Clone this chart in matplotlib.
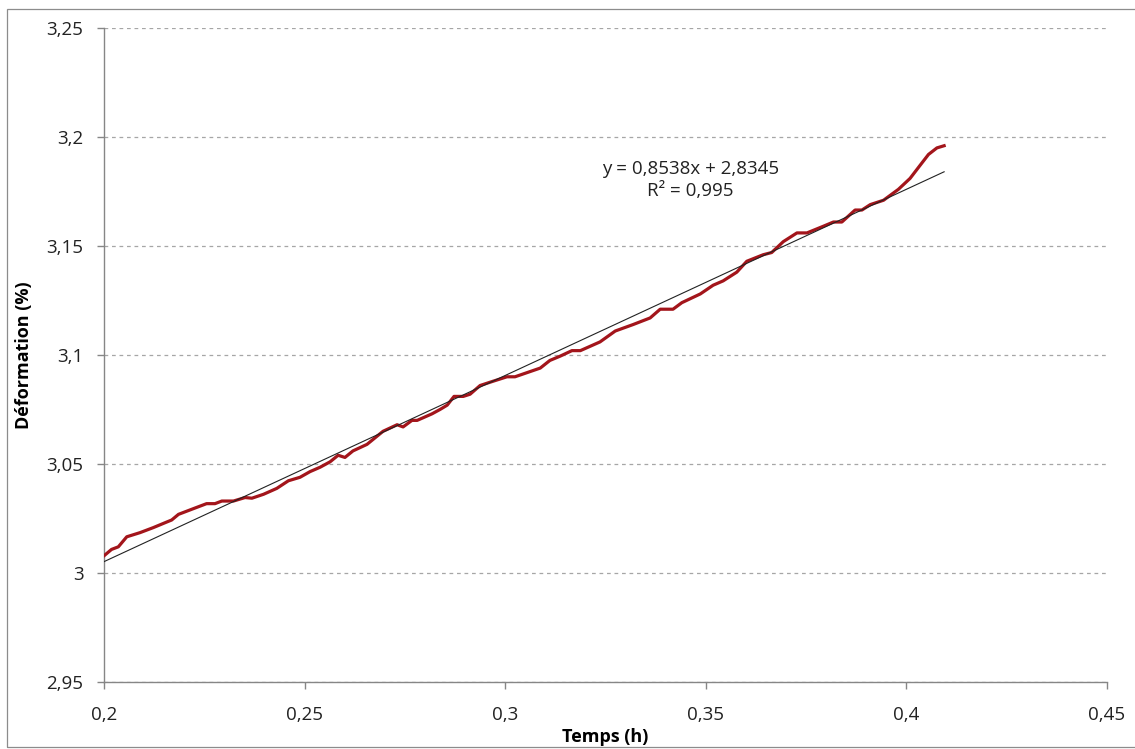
import numpy as np
import matplotlib
matplotlib.use('Agg')
import matplotlib.pyplot as plt
from matplotlib.ticker import FuncFormatter, MultipleLocator
from matplotlib.patches import Rectangle

plt.rcParams['font.family'] = ['Open Sans', 'DejaVu Sans']

# measured strain curve (time in h, strain in %)
temps = [0.2000, 0.2018, 0.2035, 0.2056, 0.2089, 0.2122, 0.2156, 0.2168, 0.2185,
         0.2222, 0.2255, 0.2276, 0.2293, 0.2322, 0.2351, 0.2368, 0.2397, 0.2430,
         0.2459, 0.2488, 0.2513, 0.2538, 0.2563, 0.2583, 0.2600, 0.2620, 0.2655,
         0.2695, 0.2730, 0.2745, 0.2767, 0.2780, 0.2817, 0.2837, 0.2855, 0.2872,
         0.2895, 0.2912, 0.2937, 0.2970, 0.3004, 0.3024, 0.3087, 0.3111, 0.3137,
         0.3166, 0.3187, 0.3236, 0.3274, 0.3319, 0.3361, 0.3386, 0.3418, 0.3440,
         0.3486, 0.3518, 0.3543, 0.3577, 0.3602, 0.3643, 0.3664, 0.3693, 0.3727,
         0.3752, 0.3792, 0.3818, 0.3839, 0.3872, 0.3889, 0.3910, 0.3943, 0.3980,
         0.4009, 0.4034, 0.4055, 0.4076, 0.4094]
deformation = [3.0080, 3.0108, 3.0120, 3.0166, 3.0185, 3.0208, 3.0234, 3.0243, 3.0269,
               3.0295, 3.0318, 3.0318, 3.0330, 3.0330, 3.0346, 3.0343, 3.0361, 3.0388,
               3.0423, 3.0439, 3.0465, 3.0485, 3.0510, 3.0540, 3.0530, 3.0560, 3.0590,
               3.0650, 3.0680, 3.0670, 3.0700, 3.0700, 3.0730, 3.0750, 3.0770, 3.0810,
               3.0810, 3.0820, 3.0860, 3.0880, 3.0900, 3.0900, 3.0940, 3.0975, 3.0995,
               3.1020, 3.1020, 3.1060, 3.1110, 3.1140, 3.1170, 3.1210, 3.1210, 3.1240,
               3.1280, 3.1320, 3.1340, 3.1380, 3.1430, 3.1460, 3.1470, 3.1520, 3.1560,
               3.1560, 3.1590, 3.1610, 3.1610, 3.1665, 3.1665, 3.1690, 3.1710, 3.1760,
               3.1810, 3.1870, 3.1920, 3.1950, 3.1960]

# linear trendline as reported on the chart
pente = 0.8538
origine = 2.8345
r2 = 0.995

temps = np.array(temps)
deformation = np.array(deformation)

fig = plt.figure(figsize=(11.35, 7.49), dpi=100)
ax = fig.add_axes([0.0919, 0.0895, 0.9753 - 0.0919, 0.9626 - 0.0895])

# outer chart frame
fig.patches.append(Rectangle((7 / 1135, 2 / 749), 1.2, 1 - 11 / 749,
                             transform=fig.transFigure, fill=False,
                             edgecolor='#8c8c8c', linewidth=0.9))

ax.plot(temps, deformation, color='#A3151B', linewidth=2.3, solid_joinstyle='round', zorder=3)
xt = np.array([temps[0], temps[-1]])
ax.plot(xt, pente * xt + origine, color='#222222', linewidth=0.8, zorder=4)


def fmt(v):
    return ('%g' % round(v, 4)).replace('.', ',')


ax.text(0.3461, 3.1802,
        'y = %sx + %s\nR² = %s' % (fmt(pente), fmt(origine), fmt(r2)),
        ha='center', va='center', fontsize=13.5, color='#222222', linespacing=1.3)

ax.set_xlim(0.2, 0.45)
ax.set_ylim(2.95, 3.25)
ax.xaxis.set_major_locator(MultipleLocator(0.05))
ax.yaxis.set_major_locator(MultipleLocator(0.05))
ax.xaxis.set_major_formatter(FuncFormatter(lambda v, p: fmt(v)))
ax.yaxis.set_major_formatter(FuncFormatter(lambda v, p: fmt(v)))

ax.grid(axis='y', color='#a6a6a6', linestyle=(0, (3, 3)), linewidth=0.9)
ax.set_axisbelow(True)
for s in ['top', 'right']:
    ax.spines[s].set_visible(False)
for s in ['left', 'bottom']:
    ax.spines[s].set_color('#868686')
    ax.spines[s].set_linewidth(1.0)
ax.tick_params(axis='both', direction='out', length=5, width=1.0, color='#868686',
               labelsize=13.5, labelcolor='#222222')
ax.tick_params(axis='y', pad=10)
ax.tick_params(axis='x', pad=12)

ax.set_xlabel('Temps (h)', fontsize=13, fontweight='bold', labelpad=3)
ax.set_ylabel('Déformation (%)', fontsize=13, fontweight='bold', labelpad=10)

fig.savefig('out.png', dpi=100)
